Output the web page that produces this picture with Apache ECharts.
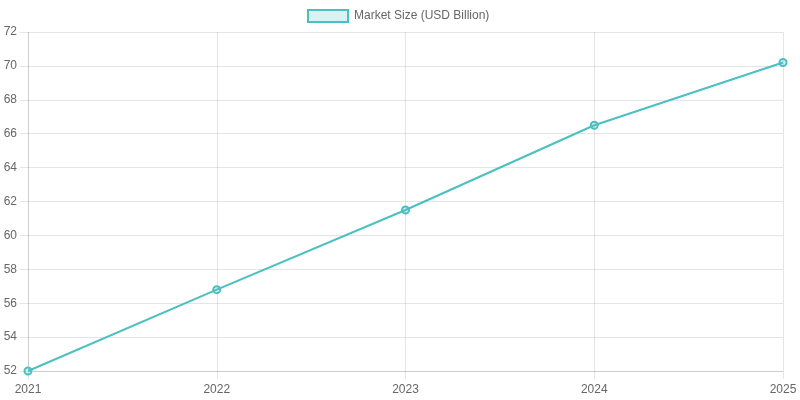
<!DOCTYPE html>
<html>
<head>
<meta charset="utf-8">
<script src="https://cdn.jsdelivr.net/npm/echarts@6/dist/echarts.min.js"></script>
<style>
html,body{margin:0;padding:0;background:#fff;}
#chart{width:800px;height:400px;}
</style>
</head>
<body>
<div id="chart"></div>
<script>
// data
var years = ['2021', '2022', '2023', '2024', '2025'];
var marketSize = [52.0, 56.8, 61.5, 66.5, 70.2];
var seriesName = 'Market Size (USD Billion)';

var lineColor = '#4BC0C0';
var gridColor = 'rgba(0,0,0,0.1)';

var myChart = echarts.init(document.getElementById('chart'));
var option = {
	animation: false,
	textStyle: { fontFamily: 'Liberation Sans, Arial, sans-serif' },
	legend: {
		top: 4,
		left: 302,
		itemWidth: 40,
		itemHeight: 12,
		itemGap: 10,
		icon: 'rect',
		data: [{
			name: seriesName,
			itemStyle: { color: 'rgba(75,192,192,0.2)', borderColor: lineColor, borderWidth: 2 }
		}],
		textStyle: { color: '#666', fontSize: 12, padding: [0, 0, 0, 1] }
	},
	grid: {
		left: 28,
		right: 17,
		top: 32,
		bottom: 29,
		containLabel: false
	},
	xAxis: {
		type: 'category',
		data: years,
		boundaryGap: false,
		axisLine: { lineStyle: { color: gridColor } },
		axisTick: { show: true, length: 8, lineStyle: { color: gridColor } },
		axisLabel: { color: '#666', fontSize: 12, margin: 13 },
		splitLine: { show: true, lineStyle: { color: gridColor } }
	},
	yAxis: {
		type: 'value',
		min: 52,
		max: 72,
		interval: 2,
		axisLine: { show: true, lineStyle: { color: gridColor } },
		axisTick: { show: true, length: 8, lineStyle: { color: gridColor } },
		axisLabel: { color: '#666', fontSize: 12, margin: 11 },
		splitLine: { show: true, lineStyle: { color: gridColor } }
	},
	series: [{
		name: seriesName,
		type: 'line',
		data: marketSize,
		symbol: 'circle',
		symbolSize: 7,
		showAllSymbol: true,
		lineStyle: { color: lineColor, width: 2 },
		itemStyle: { color: 'rgba(75,192,192,0.2)', borderColor: lineColor, borderWidth: 2 }
	}]
};
myChart.setOption(option, true);
</script>
</body>
</html>
